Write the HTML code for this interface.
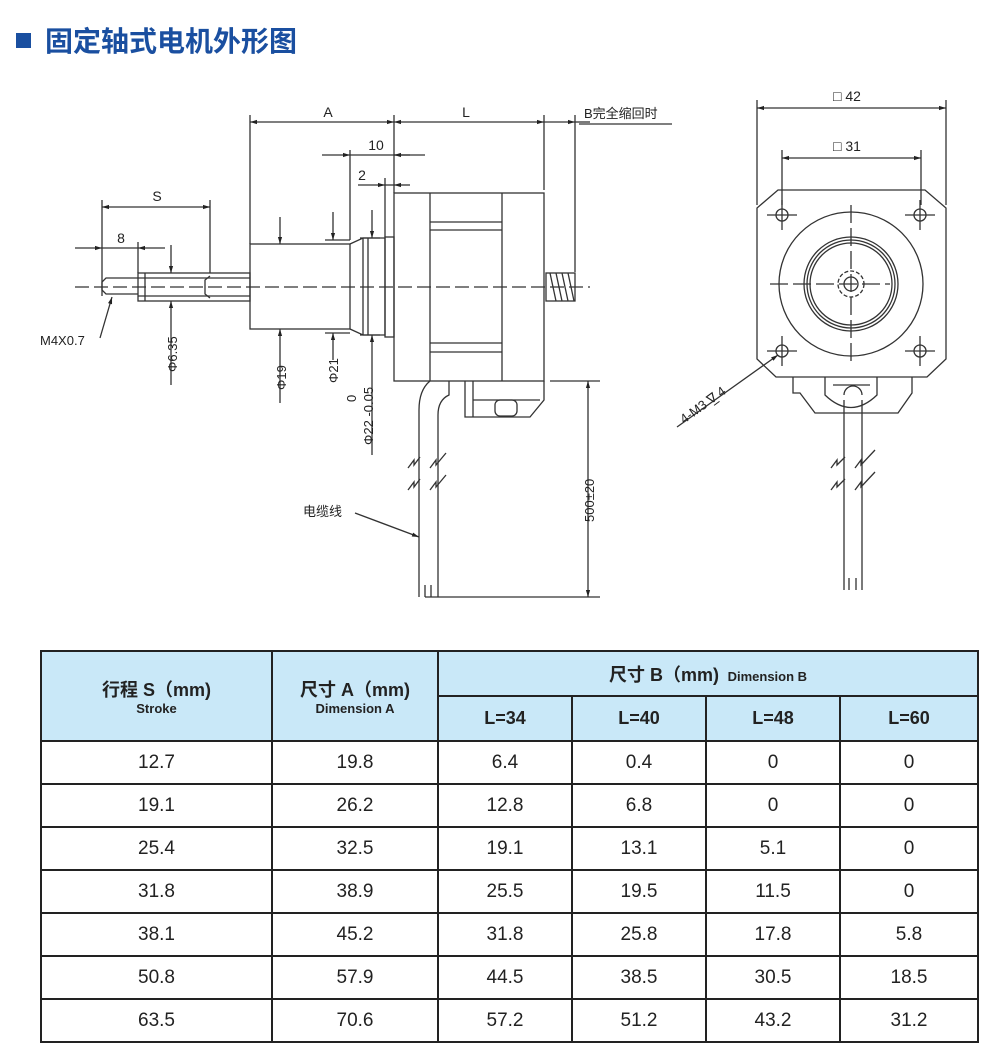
<!DOCTYPE html>
<html><head><meta charset="utf-8"><style>
body{margin:0;background:#fff;width:1000px;height:1063px;position:relative;overflow:hidden;font-family:"Liberation Sans","Noto Sans CJK SC",sans-serif}
svg{position:absolute;left:0;top:0}
table{position:absolute;left:40px;top:650px;border-collapse:collapse;width:937px;table-layout:fixed}
td{border:2px solid #222;text-align:center;font-size:19px;color:#222;height:41px;padding:0}
.h{background:#c9e8f8;font-weight:bold;font-size:18px}
.h small{display:block;font-size:13px;margin-top:-1px}
</style></head><body>
<svg width="1000" height="640" viewBox="0 0 1000 640" font-family="Liberation Sans, Noto Sans CJK SC, sans-serif">
<defs><marker id="a" viewBox="0 0 10 10" refX="10" refY="5" markerWidth="9" markerHeight="7" orient="auto-start-reverse" markerUnits="userSpaceOnUse"><path d="M0,2 L10,5 L0,8z" fill="#222"/></marker></defs>
<rect x="16" y="33" width="15" height="15" fill="#1a4fa0"/>
<text x="45" y="51" font-size="28" font-weight="bold" fill="#1a4fa0">固定轴式电机外形图</text>
<g stroke="#333" stroke-width="1.3" fill="none">
<line x1="250" y1="115" x2="250" y2="244"/><line x1="394" y1="115" x2="394" y2="193"/><line x1="544" y1="115" x2="544" y2="190"/><line x1="575" y1="115" x2="575" y2="272"/>
<line x1="350" y1="150" x2="350" y2="240"/><line x1="385" y1="178" x2="385" y2="237"/>
<line x1="102" y1="200" x2="102" y2="296"/><line x1="210" y1="200" x2="210" y2="273"/><line x1="138" y1="242" x2="138" y2="273"/>
<line x1="250" y1="122" x2="394" y2="122" marker-start="url(#a)" marker-end="url(#a)"/>
<line x1="394" y1="122" x2="544" y2="122" marker-start="url(#a)" marker-end="url(#a)"/>
<line x1="544" y1="122" x2="575" y2="122" marker-end="url(#a)"/>
<line x1="575" y1="122" x2="590" y2="122"/>
<line x1="322" y1="155" x2="350" y2="155" marker-end="url(#a)"/><line x1="394" y1="155" x2="425" y2="155"/><line x1="410" y1="155" x2="394" y2="155" marker-end="url(#a)"/><line x1="350" y1="155" x2="394" y2="155"/>
<line x1="358" y1="185" x2="385" y2="185" marker-end="url(#a)"/><line x1="410" y1="185" x2="394" y2="185" marker-end="url(#a)"/><line x1="385" y1="185" x2="394" y2="185"/>
<line x1="102" y1="207" x2="210" y2="207" marker-start="url(#a)" marker-end="url(#a)"/>
<line x1="75" y1="248" x2="102" y2="248" marker-end="url(#a)"/><line x1="165" y1="248" x2="138" y2="248" marker-end="url(#a)"/><line x1="102" y1="248" x2="138" y2="248"/>
<line x1="171" y1="245" x2="171" y2="273" marker-end="url(#a)"/><line x1="171" y1="385" x2="171" y2="301" marker-end="url(#a)"/>
<line x1="280" y1="217" x2="280" y2="244" marker-end="url(#a)"/><line x1="280" y1="403" x2="280" y2="329" marker-end="url(#a)"/>
<line x1="333" y1="212" x2="333" y2="240" marker-end="url(#a)"/><line x1="333" y1="360" x2="333" y2="333" marker-end="url(#a)"/>
<line x1="372" y1="210" x2="372" y2="238" marker-end="url(#a)"/><line x1="372" y1="455" x2="372" y2="335" marker-end="url(#a)"/>
<line x1="325" y1="240" x2="350" y2="240"/><line x1="325" y1="333" x2="350" y2="333"/><line x1="360" y1="238" x2="380" y2="238"/><line x1="360" y1="335" x2="380" y2="335"/>
<rect x="394" y="193" width="150" height="188"/>
<line x1="430" y1="193" x2="430" y2="381"/><line x1="502" y1="193" x2="502" y2="381"/>
<line x1="430" y1="222" x2="502" y2="222"/><line x1="430" y1="230" x2="502" y2="230"/><line x1="430" y1="343" x2="502" y2="343"/><line x1="430" y1="352" x2="502" y2="352"/>
<rect x="385" y="237" width="9" height="100"/>
<path d="M350,244 L363,238 L385,238 L385,335 L363,335 L350,329"/>
<line x1="363" y1="238" x2="363" y2="335"/><line x1="368" y1="238" x2="368" y2="335"/>
<rect x="250" y="244" width="100" height="85"/>
<rect x="138" y="273" width="112" height="28"/>
<line x1="138" y1="278" x2="250" y2="278"/><line x1="138" y1="296" x2="250" y2="296"/><line x1="145" y1="273" x2="145" y2="301"/>
<path d="M210,276 L205,280 L205,294 L210,298"/>
<path d="M138,278 L106,278 L102,282 L102,290 L106,294 L138,294"/>
<rect x="546" y="273" width="29" height="28"/>
<path d="M550,273 L556,301 M556,273 L562,301 M562,273 L568,301 M568,273 L574,301"/>
<line x1="75" y1="287" x2="590" y2="287" stroke-dasharray="14,5"/>
<path d="M465,381 L465,417 L530,417 L544,400 L544,381"/>
<line x1="473" y1="381" x2="473" y2="417"/><line x1="473" y1="400" x2="540" y2="400"/>
<rect x="495" y="400" width="22" height="16" rx="5"/>
<path d="M449,381 L449,395 Q438,400 438,415 L438,597 M430,381 Q419,390 419,410 L419,597"/>
<line x1="425" y1="585" x2="425" y2="597"/><line x1="431" y1="585" x2="431" y2="597"/>
<line x1="425" y1="597" x2="600" y2="597"/>
<line x1="550" y1="381" x2="600" y2="381"/>
<line x1="588" y1="381" x2="588" y2="597" marker-start="url(#a)" marker-end="url(#a)"/>
<path d="M408,468 L414,460 L414,465 L420,457 M430,468 L436,460 L436,465 L446,453 M408,490 L414,482 L414,487 L420,479 M430,490 L436,482 L436,487 L446,475"/>
<line x1="100" y1="338" x2="112" y2="297" marker-end="url(#a)"/>
<line x1="355" y1="513" x2="419" y2="537" marker-end="url(#a)"/>
<line x1="579" y1="124" x2="672" y2="124"/>
<line x1="757" y1="100" x2="757" y2="205"/><line x1="946" y1="100" x2="946" y2="205"/>
<line x1="757" y1="108" x2="946" y2="108" marker-start="url(#a)" marker-end="url(#a)"/>
<line x1="782" y1="150" x2="782" y2="205"/><line x1="921" y1="150" x2="921" y2="205"/>
<line x1="782" y1="158" x2="921" y2="158" marker-start="url(#a)" marker-end="url(#a)"/>
<path d="M778,190 L925,190 L946,208 L946,359 L927,377 L776,377 L757,359 L757,208 Z"/>
<circle cx="782" cy="215" r="6"/><circle cx="920" cy="215" r="6"/><circle cx="782" cy="351" r="6"/><circle cx="920" cy="351" r="6"/>
<path d="M767,215h30M782,200v30M905,215h30M920,200v30M767,351h30M782,336v30M905,351h30M920,336v30"/>
<circle cx="851" cy="284" r="72"/><circle cx="851" cy="284" r="47"/><circle cx="851" cy="284" r="44"/><circle cx="851" cy="284" r="41"/>
<circle cx="851" cy="284" r="13" stroke-dasharray="4,2"/><circle cx="851" cy="284" r="7"/>
<path d="M770,284h120 M851,205v160" stroke-dasharray="18,5"/>
<path d="M793,377 L793,393 L800,393 L815,413 L898,413 L912,393 L912,377"/>
<path d="M825,377 L825,395 Q851,420 877,395 L877,377"/>
<path d="M844,400 L844,590 M862,400 L862,590 M844,395 A9,9 0 0 1 862,395"/>
<line x1="833" y1="385" x2="870" y2="385"/>
<line x1="849" y1="578" x2="849" y2="590"/><line x1="856" y1="578" x2="856" y2="590"/>
<path d="M831,468 L837,460 L837,465 L845,457 M855,468 L861,460 L861,465 L875,450 M831,490 L837,482 L837,487 L845,479 M855,490 L861,482 L861,487 L875,472"/>
<line x1="677" y1="427" x2="778" y2="355" marker-end="url(#a)"/>
</g>
<g fill="#222" font-size="14">
<text x="328" y="117" text-anchor="middle">A</text><text x="466" y="117" text-anchor="middle">L</text>
<text x="584" y="118" font-size="13">B完全缩回时</text>
<text x="376" y="150" text-anchor="middle">10</text><text x="362" y="180" text-anchor="middle">2</text>
<text x="157" y="201" text-anchor="middle">S</text><text x="121" y="243" text-anchor="middle">8</text>
<text x="40" y="345" font-size="13">M4X0.7</text>
<text transform="translate(177,372) rotate(-90)" font-size="13">Φ6.35</text>
<text transform="translate(286,390) rotate(-90)" font-size="13">Φ19</text>
<text transform="translate(338,383) rotate(-90)" font-size="13">Φ21</text>
<text transform="translate(356,402) rotate(-90)" font-size="13">0</text>
<text transform="translate(373,445) rotate(-90)" font-size="13">Φ22 -0.05</text>
<text transform="translate(594,522) rotate(-90)" font-size="13">500±20</text>
<text x="303" y="516" font-size="13">电缆线</text>
<text x="833" y="101" font-size="14">□ 42</text><text x="833" y="151" font-size="14">□ 31</text>
<text transform="translate(684,424) rotate(-36)" font-size="13">4-M3 ∇̲ 4</text>
</g>
</svg>
<table>
<colgroup><col style="width:231px"><col style="width:166px"><col style="width:134px"><col style="width:134px"><col style="width:134px"><col style="width:138px"></colgroup>
<tr><td class="h" rowspan="2">行程 S（mm)<small>Stroke</small></td><td class="h" rowspan="2">尺寸 A（mm)<small>Dimension A</small></td><td class="h" colspan="4" style="height:43px">尺寸 B（mm) <span style="font-size:13px">&nbsp;Dimension B</span></td></tr>
<tr><td class="h" style="height:43px">L=34</td><td class="h">L=40</td><td class="h">L=48</td><td class="h">L=60</td></tr>
<tr><td>12.7</td><td>19.8</td><td>6.4</td><td>0.4</td><td>0</td><td>0</td></tr>
<tr><td>19.1</td><td>26.2</td><td>12.8</td><td>6.8</td><td>0</td><td>0</td></tr>
<tr><td>25.4</td><td>32.5</td><td>19.1</td><td>13.1</td><td>5.1</td><td>0</td></tr>
<tr><td>31.8</td><td>38.9</td><td>25.5</td><td>19.5</td><td>11.5</td><td>0</td></tr>
<tr><td>38.1</td><td>45.2</td><td>31.8</td><td>25.8</td><td>17.8</td><td>5.8</td></tr>
<tr><td>50.8</td><td>57.9</td><td>44.5</td><td>38.5</td><td>30.5</td><td>18.5</td></tr>
<tr><td>63.5</td><td>70.6</td><td>57.2</td><td>51.2</td><td>43.2</td><td>31.2</td></tr>
</table>
</body></html>
